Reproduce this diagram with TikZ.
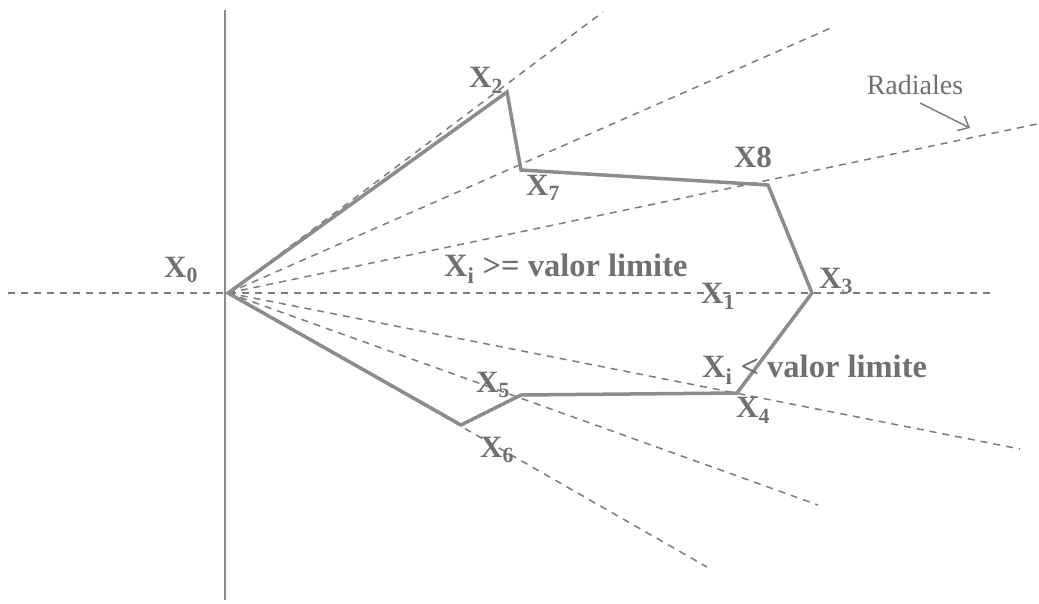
\documentclass[tikz,border=0pt]{standalone}
\usepackage{fontspec}
\setmainfont{Liberation Serif}
\usetikzlibrary{arrows.meta}
\definecolor{txtgray}{HTML}{707070}
\definecolor{linegray}{HTML}{8C8C8C}
\definecolor{dashgray}{HTML}{7C7C7C}
\tikzset{
  radial/.style={draw=dashgray, line width=1.5pt, dash pattern=on 7pt off 6pt},
  hull/.style={draw=linegray, line width=3.5pt, line join=miter},
  axis/.style={draw=linegray, line width=1.4pt},
  lbl/.style={text=txtgray, font=\fontsize{31}{36}\selectfont\bfseries, inner sep=0pt},
  wlbl/.style={text=txtgray, font=\fontsize{32.5}{38}\selectfont\bfseries, inner sep=0pt},
  rlbl/.style={text=txtgray, font=\fontsize{28}{32}\selectfont, inner sep=0pt},
}
\begin{document}
\begin{tikzpicture}[x=1pt,y=-1pt]
\useasboundingbox (0,0) rectangle (1039,603);
% axes
\coordinate (O) at (228,293);
\coordinate (vtop) at (225,10);
\coordinate (vbot) at (225,600);
\coordinate (hleft) at (8,293);
\coordinate (hright) at (992,293);
\draw[axis] (vtop) -- (vbot);
\draw[radial] (hleft) -- (hright);
% radial end points
\coordinate (r1) at (603,12);
\coordinate (r2) at (833,27);
\coordinate (r3) at (1037,124);
\coordinate (r4) at (1020,449);
\coordinate (r5) at (818,505);
\coordinate (r6) at (707,567);
\foreach \r in {r1,r2,r3,r4,r5,r6} \draw[radial] (O) -- (\r);
% polygon vertices
\coordinate (p2) at (507,92);
\coordinate (p7) at (521,170);
\coordinate (p8) at (768,185);
\coordinate (p3) at (812,293);
\coordinate (p4) at (737,393);
\coordinate (p5) at (521,395);
\coordinate (p6) at (461,425);
\draw[hull] (O) -- (p2) -- (p7) -- (p8) -- (p3) -- (p4) -- (p5) -- (p6) -- cycle;
% labels
\node[lbl] (L0) at (181,270) {X\textsubscript{0}};
\node[lbl] (L2) at (486,80) {X\textsubscript{2}};
\node[lbl] (L7) at (543,188) {X\textsubscript{7}};
\node[lbl] (L8) at (753,157) {X8};
\node[wlbl, anchor=base west] (Lge) at (444,276) {X\textsubscript{i} >= valor limite};
\node[lbl] (L1) at (718,296) {X\textsubscript{1}};
\node[lbl] (L3) at (836,281) {X\textsubscript{3}};
\node[wlbl, anchor=base west] (Llt) at (702,377) {X\textsubscript{i} < valor limite};
\node[lbl] (L4) at (753,410) {X\textsubscript{4}};
\node[lbl] (L5) at (493,385) {X\textsubscript{5}};
\node[lbl] (L6) at (497,450) {X\textsubscript{6}};
\node[rlbl] (LR) at (915,85) {Radiales};
\coordinate (a1) at (920,103);
\coordinate (a2) at (970,128);
\draw[draw=dashgray, line width=1.5pt, -{Straight Barb[length=9pt,width=16pt]}] (a1) -- (a2);
\end{tikzpicture}
\end{document}
